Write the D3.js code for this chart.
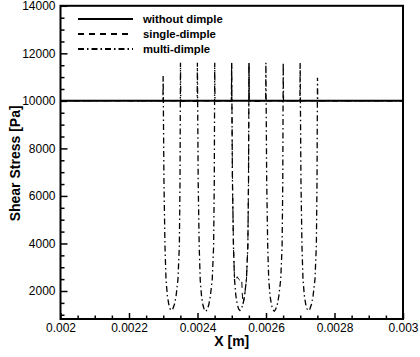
<!DOCTYPE html>
<html>
<head>
<meta charset="utf-8">
<script src="https://cdn.jsdelivr.net/npm/d3@7/dist/d3.min.js"></script>
<style>
  html, body { margin: 0; padding: 0; background: #fff; }
  svg { display: block; font-family: "Liberation Sans", Arial, sans-serif; }
</style>
</head>
<body>
<svg id="chart" width="420" height="357"></svg>
<script>
// ---------- data ----------
const seriesNames = ["without dimple", "single-dimple", "multi-dimple"];

const withoutX = [0.002, 0.0025, 0.003];
const withoutY = [10000, 10000, 10000];

const singleX = [0.002, 0.0022, 0.0024, 0.002499,
  0.0024997, 0.002502, 0.002505, 0.002508, 0.002512, 0.002516, 0.00252, 0.002524, 0.002529, 0.002532, 0.002533, 0.0025375, 0.002543, 0.002547, 0.002549, 0.0025503, 0.002551,
  0.0026, 0.0028, 0.003];
const singleY = [10000, 10005, 9995, 10000,
  11600, 6700, 3900, 2550, 2450, 2600, 2500, 2450, 2500, 1500, 1450, 1800, 2500, 3900, 6700, 11600, 10000,
  9995, 10005, 10000];

const multiX = [0.002, 0.00215, 0.002299,
  0.0022997, 0.002302, 0.002305, 0.002308, 0.002312, 0.002316, 0.00232, 0.002324, 0.002328, 0.002333, 0.0023375, 0.002343, 0.002347, 0.002349, 0.0023503, 0.002351,
  0.002375, 0.002399,
  0.0023997, 0.002402, 0.002405, 0.002408, 0.002412, 0.002416, 0.00242, 0.002424, 0.002428, 0.002433, 0.0024375, 0.002443, 0.002447, 0.002449, 0.0024503, 0.002451,
  0.002475, 0.002499,
  0.0024997, 0.002502, 0.002505, 0.002508, 0.002512, 0.002516, 0.00252, 0.002524, 0.002528, 0.002533, 0.0025375, 0.002543, 0.002547, 0.002549, 0.0025503, 0.002551,
  0.002575, 0.002599,
  0.0025997, 0.002602, 0.002605, 0.002608, 0.002612, 0.002616, 0.00262, 0.002624, 0.002628, 0.002633, 0.0026375, 0.002643, 0.002647, 0.002649, 0.0026503, 0.002651,
  0.002675, 0.002699,
  0.0026997, 0.002702, 0.002705, 0.002708, 0.002712, 0.002716, 0.00272, 0.002724, 0.002728, 0.002733, 0.0027375, 0.002743, 0.002747, 0.002749, 0.0027503, 0.002751,
  0.00285, 0.003];
const multiY = [10000, 10010, 10000,
  11050, 6700, 3900, 2500, 1800, 1450, 1250, 1180, 1250, 1450, 1800, 2500, 3900, 6700, 11600, 10000,
  9990, 10000,
  11600, 6600, 3850, 2450, 1750, 1400, 1200, 1140, 1210, 1420, 1780, 2480, 3850, 6600, 11600, 10000,
  10010, 10000,
  11600, 6700, 3900, 2500, 1800, 1450, 1250, 1180, 1250, 1450, 1800, 2500, 3900, 6700, 11600, 10000,
  9990, 10000,
  11600, 6650, 3880, 2480, 1770, 1420, 1220, 1150, 1220, 1430, 1790, 2490, 3880, 6650, 11600, 10000,
  10010, 10000,
  11600, 6700, 3900, 2500, 1800, 1440, 1240, 1170, 1240, 1450, 1800, 2500, 3900, 6700, 10970, 10000,
  10000, 10000];

const xTicks = [0.002, 0.0022, 0.0024, 0.0026, 0.0028, 0.003];
const xTickLabels = ["0.002", "0.0022", "0.0024", "0.0026", "0.0028", "0.003"];
const yTicks = [2000, 4000, 6000, 8000, 10000, 12000, 14000];
const yTickLabels = ["2000", "4000", "6000", "8000", "10000", "12000", "14000"];
const xTitle = "X [m]";
const yTitle = "Shear Stress [Pa]";

// ---------- layout ----------
const L = 60.5, R = 403, T = 5.8, B = 319;
const svg = d3.select("#chart");

const x = d3.scaleLinear().domain([0.002, 0.003]).range([L, R]);
const y = d3.scaleLinear().domain([822, 14000]).range([B, T]);

const xMinor = d3.range(0, 21).map(i => 0.002 + i * 0.00005).filter(v => !xTicks.some(t => Math.abs(t - v) < 1e-9));
const yMinor = d3.range(1, 28).map(i => i * 500).filter(v => v >= 822 && v % 2000 !== 0);

svg.append("defs").append("clipPath").attr("id", "clip")
  .append("rect").attr("x", L).attr("y", T).attr("width", R - L).attr("height", B - T);

const line = d3.line().x(d => x(d[0])).y(d => y(d[1]));
const g = svg.append("g").attr("clip-path", "url(#clip)");

const series = [
  { xs: withoutX, ys: withoutY, dash: null, w: 2, lw: 2 },
  { xs: singleX, ys: singleY, dash: "6,5", w: 1.0, lw: 2 },
  { xs: multiX, ys: multiY, dash: "6,3,1.5,3", w: 1.3, lw: 2 }
];
series.forEach(s => {
  g.append("path")
    .datum(s.xs.map((v, i) => [v, s.ys[i]]))
    .attr("d", line)
    .attr("fill", "none")
    .attr("stroke", "#000")
    .attr("stroke-width", s.w)
    .attr("stroke-dasharray", s.dash);
});

// axes
const fontSize = "12px";
const yAxis = svg.append("g").attr("transform", `translate(${L},0)`)
  .call(d3.axisLeft(y).tickValues(yTicks).tickSize(-7).tickPadding(5)
    .tickFormat((d, i) => yTickLabels[i]));
const yAxisMinor = svg.append("g").attr("transform", `translate(${L},0)`)
  .call(d3.axisLeft(y).tickValues(yMinor).tickSize(-4).tickFormat(""));
const xAxis = svg.append("g").attr("transform", `translate(0,${B})`)
  .call(d3.axisBottom(x).tickValues(xTicks).tickSize(-6).tickPadding(4.5)
    .tickFormat((d, i) => xTickLabels[i]));
const xAxisMinor = svg.append("g").attr("transform", `translate(0,${B})`)
  .call(d3.axisBottom(x).tickValues(xMinor).tickSize(-3.5).tickFormat(""));

[yAxis, yAxisMinor, xAxis, xAxisMinor].forEach(a => {
  a.select(".domain").remove();
  a.selectAll("line").attr("stroke", "#000").attr("stroke-width", 1.5);
  a.selectAll("text").attr("font-size", fontSize)
    .attr("font-family", "Liberation Sans, Arial, sans-serif").attr("fill", "#000");
});

// frame
svg.append("rect").attr("x", L).attr("y", T).attr("width", R - L).attr("height", B - T)
  .attr("fill", "none").attr("stroke", "#000").attr("stroke-width", 2);

// titles
svg.append("text").attr("x", (L + R) / 2).attr("y", 346)
  .attr("text-anchor", "middle").attr("font-size", "14px").attr("font-weight", "bold")
  .text(xTitle);
svg.append("text").attr("transform", `translate(20,${(T + B) / 2 + 1}) rotate(-90)`)
  .attr("text-anchor", "middle").attr("font-size", "14px").attr("font-weight", "bold")
  .text(yTitle);

// legend
const legY = [19, 34, 49];
series.forEach((s, i) => {
  svg.append("line").attr("x1", 78).attr("x2", 133).attr("y1", legY[i]).attr("y2", legY[i])
    .attr("stroke", "#000").attr("stroke-width", s.lw).attr("stroke-dasharray", s.dash);
  svg.append("text").attr("x", 143).attr("y", legY[i] + 4)
    .attr("font-size", "11.3px").attr("font-weight", "bold").text(seriesNames[i]);
});
</script>
</body>
</html>
